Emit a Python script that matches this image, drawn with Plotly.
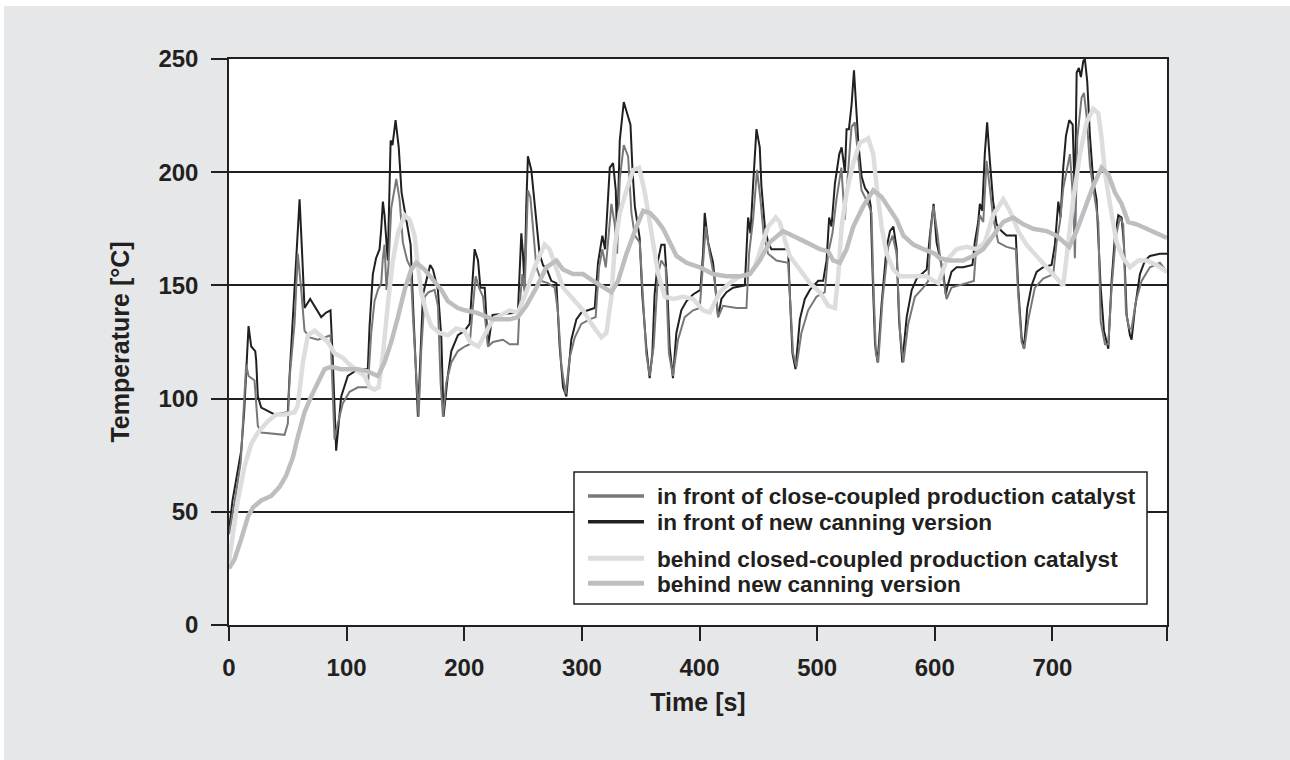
import plotly.graph_objects as go

# ---------------- data ----------------
series_names = [
    "in front of close-coupled production catalyst",
    "in front of new canning version",
    "behind closed-coupled production catalyst",
    "behind new canning version",
]

front_prod_t = [0, 5, 10, 14.6, 16.6, 21.7, 23.1, 24.5, 27.4, 47.2, 50, 51.5, 55.7, 58.5, 61.4, 64.2, 68.5, 75.6, 81.2, 86.3,
                89.7, 92.5, 96.8, 102.5, 109.6, 118, 120.9, 123.7, 126.6, 129.4, 130.8, 132.2, 133.9, 135.6, 137.9, 142.2,
                145, 147.8, 151.5, 154.4, 156.4, 159.2, 161.2, 163.4, 166.3, 169.7, 174.8, 177.6, 179.9, 181.9, 184.7, 189,
                194.6, 200.3, 204.6, 207.4, 209.7, 212.5, 215.9, 218.2, 220.2, 224.4, 232.9, 238.6, 245.6, 247, 249.4,
                251.3, 252.7, 254.1, 256.2, 258.4, 261.3, 265.5, 271.2, 276.9, 279.7, 282.5, 286.2, 289.6, 293.9, 299.5,
                306.6, 311.7, 314.6, 317.4, 320.3, 325.1, 327.9, 329.9, 332.2, 335.6, 339.3, 342.1, 345, 349.2, 351.5,
                354.7, 357.6, 361, 364.7, 367.5, 371.2, 374, 377.4, 381.7, 387.4, 394.5, 400.2, 403, 405.3, 408.7, 413,
                415.8, 420, 431.4, 439.9, 442.1, 445.5, 448.9, 451.8, 454.6, 458.3, 465.4, 475.3, 477.3, 479.5, 482.4,
                486.6, 492.3, 499.4, 506.5, 509.3, 513, 516.4, 520.6, 523.5, 526.4, 529.2, 532, 534.9, 537.7, 543.4,
                546.2, 547.6, 549.9, 551.9, 555.6, 560.4, 564.1, 567.6, 570.3, 573.3, 577.4, 583.1, 590.2, 594.5, 596.4,
                598.8, 602.2, 604.3, 608.6, 610, 614.2, 619.9, 627, 633.2, 635.5, 638.3, 641.2, 644, 646.8, 649.6, 653.9,
                661, 668.9, 670.9, 673.8, 676.1, 679.5, 685.1, 692.2, 700.7, 703.5, 706.4, 709.2, 712.6, 714.9, 717.7,
                719.1, 721.1, 724.8, 726.8, 729, 731.9, 736.1, 739, 741, 744.7, 747.5, 750.3, 754, 757.4, 760.2, 762.5,
                765.3, 767.3, 771, 775.8, 782.9, 791.4, 797.4]
front_prod_v = [40, 55, 72, 115, 110, 108, 98, 88, 85, 84, 89, 109, 133, 164, 148, 130, 127, 126, 127, 128,
                82, 89, 98, 103, 105, 105, 129, 143, 148, 151, 162, 168, 148, 159, 184, 197,
                188, 169, 161, 158, 136, 107, 92, 121, 145, 147, 148, 141, 107, 92, 107, 116,
                121, 123, 124, 141, 154, 149, 145, 133, 123, 125, 126, 124, 124, 141, 155,
                147, 174, 192, 189, 174, 158, 152, 151, 149, 138, 115, 102, 118, 127, 133,
                135, 136, 158, 166, 158, 186, 177, 164, 197, 212, 207, 182, 172, 169, 147,
                120, 110, 123, 155, 161, 158, 120, 110, 126, 136, 139, 140, 161, 176, 164, 152,
                136, 141, 140, 140, 164, 179, 201, 188, 172, 164, 161, 160, 141, 120, 114,
                129, 139, 145, 147, 164, 173, 188, 202, 179, 201, 220, 222, 208, 192, 186,
                182, 154, 120, 116, 144, 167, 172, 164, 130, 116, 133, 145, 149, 152, 173,
                185, 173, 163, 149, 144, 149, 150, 151, 152, 169, 181, 178, 205, 193, 180, 169,
                167, 166, 146, 125, 122, 135, 149, 153, 155, 169, 178, 193, 202, 208, 187,
                162, 215, 233, 235, 225, 203, 188, 178, 134, 124, 124, 149, 172, 180, 177, 138,
                131, 131, 143, 152, 158, 160, 156]

front_new_t = [0, 3, 10.4, 13, 16.6, 18.9, 22.3, 23.1, 24.5, 27.4, 38.7, 50, 51.5, 54.3, 57, 60, 62, 64.2, 69, 72.7,
               78.4, 82.6, 86.3, 88, 91.1, 95.4, 101, 109.6, 118, 119.5, 122.3, 125, 128, 129.4, 130.8, 132.2, 133.7,
               135, 137.4, 139, 141.6, 144.3, 146.7, 152, 154.4, 157, 160.6, 164.9, 171, 173.4, 177.6, 180.5, 182.4,
               186, 189, 194.6, 200.3, 204.6, 206, 208.8, 211.7, 213.7, 217.4, 220.2, 224, 245.6, 247, 248.5, 249.9,
               251.3, 252.7, 254.1, 257, 259.8, 261.8, 264, 266.9, 270.3, 274, 278.3, 281.1, 284, 286.8, 291, 295.3,
               299.5, 305.2, 310.9, 313.7, 317.4, 319.7, 321.4, 323.7, 326.5, 328.8, 329.9, 332.2, 335.6, 341.3, 343,
               345, 349.1, 351.3, 354.7, 357.6, 359.9, 361.8, 364.7, 367.5, 370.3, 372.3, 374.6, 377.4, 380.3, 384.5,
               388.8, 394.5, 400.7, 403, 404.4, 407.3, 411.5, 414.3, 415.8, 418.6, 422.9, 428.5, 438.5, 441.3, 443.3,
               445.5, 448.4, 451.2, 452.6, 455.5, 458.3, 461.1, 475.3, 476.7, 479, 481.6, 485.3, 489.5, 493.8, 500.9,
               505.1, 508, 510.2, 512.2, 515.1, 518.8, 520.8, 523.6, 525, 527, 529.3, 531.3, 532.7, 535, 537.8, 540.7,
               543.5, 545.5, 547.2, 549.2, 551.4, 554.8, 559.1, 561.9, 564.8, 567.6, 569.6, 572.4, 576.1, 580.4, 584.6,
               593.1, 596, 599, 601.5, 604.3, 607.1, 609.4, 610.5, 614.2, 618.5, 624.1, 632, 634, 636.9, 638.3, 640.3,
               642.5, 644.5, 646.8, 649.6, 652.5, 656.7, 661, 668.9, 670.9, 673.8, 675.8, 678.6, 682.3, 686.5, 692.2,
               699.3, 702.1, 705, 706.9, 709.2, 711.5, 714.3, 717.2, 719.1, 720.6, 722.5, 724.2, 726.2, 727.6, 729.6,
               731.9, 734.7, 737.5, 741, 743.8, 747.5, 750.3, 753.2, 756, 758.8, 760.8, 763.1, 765.9, 767.3, 770.2,
               774.4, 778.7, 782.9, 791.4, 797.4]
front_new_v = [42, 55, 77, 95, 132, 123, 121, 117, 101, 96, 93, 94, 110, 134, 160, 188, 166, 140, 144, 141,
               136, 138, 139, 120, 77, 101, 110, 113, 113, 132, 155, 162, 166, 175, 187, 181, 171,
               161, 214, 212, 223, 211, 191, 176, 168, 135, 92, 146, 159, 157, 148, 127, 92,
               110, 121, 128, 130, 133, 145, 166, 161, 149, 149, 123, 137, 138, 155, 173, 164,
               149, 185, 207, 201, 185, 176, 164, 159, 157, 152, 151, 123, 105, 101, 126, 135,
               138, 139, 140, 160, 172, 166, 183, 202, 204, 192, 170, 214, 231, 221, 201,
               185, 171, 146, 123, 109, 120, 146, 161, 168, 168, 152, 123, 109, 129, 139,
               143, 146, 148, 164, 182, 169, 160, 144, 136, 144, 147, 149, 150, 180, 173,
               194, 219, 211, 194, 176, 169, 166, 166, 147, 120, 113, 135, 144, 148, 152,
               152, 161, 180, 176, 195, 208, 211, 200, 219, 219, 230, 245, 233, 213, 198, 193,
               191, 185, 154, 124, 116, 142, 167, 174, 176, 166, 135, 116, 136, 148, 153,
               157, 173, 186, 169, 163, 156, 146, 149, 156, 158, 158, 159, 169, 178, 186, 183,
               208, 222, 205, 187, 177, 174, 172, 172, 149, 127, 122, 140, 150, 156, 158,
               159, 168, 187, 180, 202, 216, 223, 221, 187, 244, 246, 242, 249, 250, 240,
               216, 196, 188, 149, 130, 122, 152, 172, 181, 180, 168, 137, 128, 126, 140,
               155, 161, 163, 164, 164]

behind_prod_t = [0, 3, 7.5, 13.2, 18.9, 24.5, 33.1, 40.1, 47.2, 55.7, 58.5, 62.8, 67.1, 72.7, 79.8, 84.1, 89.7, 96.8,
                 102.5, 109.6, 115.3, 119.5, 123.7, 127.2, 130.8, 135.1, 139.3, 143.6, 149.3, 153.6, 157.8, 160.1, 163.4,
                 167.7, 172, 179, 186.1, 193.2, 200, 205, 212, 224.4, 238.6, 245.6, 252.7, 259.8, 268.3, 272.5, 278.3,
                 284, 292.5, 301, 309.5, 316.6, 320.8, 325.1, 327.9, 332.2, 337.9, 343.6, 348.7, 353.5, 356.4, 360.6,
                 364.9, 370.5, 377.6, 386.1, 394.6, 403, 408.7, 417.2, 425.7, 434.2, 442.7, 447, 452.6, 458.3, 464.8,
                 468.2, 472.5, 476.7, 485.3, 493.8, 502.3, 509.4, 515.1, 517.9, 520.8, 525, 530.7, 536.3, 543.4, 547.7,
                 550.5, 554.8, 559.1, 564.8, 570.4, 581.8, 593.1, 598.8, 603, 610, 618.5, 627, 635.5, 642.5, 649.6,
                 658.2, 663.8, 670.9, 678, 686.5, 695, 704.9, 709.2, 713.5, 717.7, 723.4, 729, 734.7, 739, 741.8, 744.6,
                 748.9, 754.5, 760.2, 765.9, 773, 780, 788.6, 797.4]
behind_prod_v = [28, 40, 55, 70, 80, 85, 90, 93, 93, 94, 97, 116, 128, 130, 127, 125, 120, 118,
                 115, 112, 110, 105, 104, 105, 119, 142, 161, 173, 181, 179, 172, 161, 147,
                 138, 132, 129, 128, 131, 130, 125, 123, 135, 139, 138, 147, 158, 168, 166, 157,
                 149, 144, 139, 132, 127, 129, 145, 167, 182, 192, 201, 202, 191, 182, 170,
                 155, 145, 144, 145, 144, 139, 138, 147, 151, 154, 155, 158, 167, 176, 180,
                 178, 170, 163, 157, 151, 147, 141, 140, 154, 176, 191, 204, 213, 215, 208,
                 194, 176, 164, 157, 154, 154, 154, 152, 151, 161, 166, 167, 166, 169, 181,
                 188, 183, 174, 168, 163, 158, 152, 150, 169, 188, 208, 222, 228, 226, 215, 200,
                 186, 169, 162, 158, 161, 161, 159, 156]

behind_new_t = [0, 4.7, 10.4, 16.2, 20.5, 27.4, 35.9, 43, 48.6, 54.3, 58.5, 64.2, 69.9, 75.6, 81.2, 86.9, 95.4, 103.9,
                109.6, 118, 126.6, 132.2, 137.9, 143.6, 149.3, 154.9, 159.2, 166.3, 174.8, 180.5, 186.1, 194.6, 200.3,
                210.2, 224.4, 238.6, 245.6, 252.7, 261.3, 269.8, 278.3, 284, 292.5, 301, 309.5, 318, 325.1, 330.8,
                337.9, 345, 352.1, 357.8, 363.4, 369.1, 374.8, 380.4, 388.9, 400.2, 411.5, 422.9, 434.2, 442.7, 451.2,
                459.7, 471, 479.5, 490.9, 502.3, 509.4, 513.6, 519.3, 525, 530.7, 539.2, 547.7, 554.8, 561.9, 567.6,
                573.3, 581.8, 590.3, 600, 604.3, 612.8, 624.1, 632.6, 641.2, 649.6, 658.2, 666.7, 675.2, 683.7, 695,
                703.5, 709.2, 714.3, 720.5, 727.6, 734.7, 741.8, 747.5, 753.2, 758.8, 764.5, 771.6, 780.1, 788.6, 797.4]
behind_new_v = [25, 29, 38, 48, 52, 55, 57, 61, 66, 74, 83, 94, 101, 107, 113, 114, 113, 113,
                113, 112, 110, 116, 125, 136, 148, 157, 160, 157, 152, 148, 143, 140, 139,
                138, 135, 135, 136, 141, 149, 158, 161, 157, 155, 155, 152, 149, 147, 152,
                164, 174, 183, 182, 179, 175, 169, 163, 160, 158, 155, 154, 154, 155, 161,
                169, 174, 172, 169, 166, 165, 161, 160, 166, 176, 185, 192, 189, 183, 179,
                172, 168, 166, 164, 162, 161, 161, 163, 166, 172, 178, 180, 177, 175, 174,
                172, 169, 167, 174, 184, 194, 202, 199, 191, 186, 178, 177, 175, 173, 171]

x_tick_vals = [0, 100, 200, 300, 400, 500, 600, 700, 797.4]
x_tick_text = ["0", "100", "200", "300", "400", "500", "600", "700", ""]
y_tick_vals = [0, 50, 100, 150, 200, 250]

# ---------------- styling ----------------
INK = "#231f20"
BG = "#e6e7e8"
colors = ["#77787b", "#231f20", "#dcddde", "#bcbec0"]
widths = [2, 2, 4.5, 4.5]
FONT = "Liberation Sans, Arial, Helvetica, sans-serif"

W, H = 1290, 760
L, R, T, B = 229, 123, 59, 135
PW, PH = W - L - R, H - T - B


def px(x):
    return (x - L) / PW


def py(y):
    return (H - B - y) / PH


fig = go.Figure()
data = [
    (front_new_t, front_new_v, 1),
    (front_prod_t, front_prod_v, 0),
    (behind_prod_t, behind_prod_v, 2),
    (behind_new_t, behind_new_v, 3),
]
for t, v, i in data:
    fig.add_trace(go.Scatter(x=t, y=v, mode="lines", name=series_names[i],
                             line=dict(color=colors[i], width=widths[i]),
                             showlegend=False))

shapes = [
    # thin white margin strips around the grey panel
    dict(type="rect", xref="paper", yref="paper", x0=px(0), x1=px(W), y0=py(0), y1=py(6),
         fillcolor="white", line=dict(width=0), layer="above"),
    dict(type="rect", xref="paper", yref="paper", x0=px(0), x1=px(4), y0=py(0), y1=py(H),
         fillcolor="white", line=dict(width=0), layer="above"),
    # legend box
    dict(type="rect", xref="paper", yref="paper", x0=px(574), x1=px(1147), y0=py(604), y1=py(472),
         fillcolor="white", line=dict(color=INK, width=1.5), layer="above"),
]
annotations = []
rows_y = [496, 521.7, 558.3, 583.3]
leg_w = [3.5, 3.5, 5, 5]
for i, ry in enumerate(rows_y):
    shapes.append(dict(type="line", xref="paper", yref="paper", x0=px(588), x1=px(644), y0=py(ry), y1=py(ry),
                       line=dict(color=colors[i], width=leg_w[i]), layer="above"))
    annotations.append(dict(xref="paper", yref="paper", x=px(655), y=py(ry + 1), xanchor="left", yanchor="middle",
                            text=series_names[i], showarrow=False,
                            font=dict(family=FONT, size=22.6, color=INK, weight="bold")))

fig.update_layout(
    width=W, height=H,
    margin=dict(l=L, r=R, t=T, b=B, pad=0),
    paper_bgcolor=BG, plot_bgcolor="white",
    font=dict(family=FONT, color=INK, weight="bold"),
    shapes=shapes, annotations=annotations, showlegend=False,
    xaxis=dict(range=[0, 797.4], tickvals=x_tick_vals, ticktext=x_tick_text,
               showgrid=False, zeroline=False, showline=True, linecolor=INK, linewidth=1.5, mirror=True,
               ticks="outside", ticklen=14, tickwidth=1.5, tickcolor=INK, ticklabelstandoff=6,
               tickfont=dict(family=FONT, size=24, color=INK, weight="bold"),
               title=dict(text="Time [s]", standoff=14,
                          font=dict(family=FONT, size=25, color=INK, weight="bold"))),
    yaxis=dict(range=[0, 250], tickvals=y_tick_vals,
               showgrid=True, gridcolor=INK, gridwidth=1.5, zeroline=False,
               showline=True, linecolor=INK, linewidth=1.5, mirror=True,
               ticks="outside", ticklen=16, tickwidth=1.5, tickcolor=INK, ticklabelstandoff=8,
               tickfont=dict(family=FONT, size=24, color=INK, weight="bold"),
               title=dict(text="Temperature [°C]", standoff=22,
                          font=dict(family=FONT, size=25, color=INK, weight="bold"))),
)

fig.write_html("out.html")
